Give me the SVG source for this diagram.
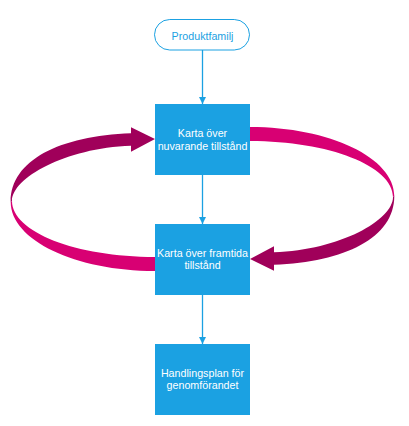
<svg xmlns="http://www.w3.org/2000/svg" width="409" height="426" viewBox="0 0 409 426">
  <style>
    .box { fill: #1ba1e2; }
    .lbl { fill: #ffffff; font-family: "Liberation Sans", Arial, sans-serif; font-size: 10.7px; text-anchor: middle; }
    .pill { fill: #ffffff; stroke: #1ba1e2; stroke-width: 1; }
    .plbl { fill: #1ba1e2; font-family: "Liberation Sans", Arial, sans-serif; font-size: 10.7px; text-anchor: middle; }
    .conn { stroke: #1ba1e2; stroke-width: 1.3; fill: none; }
    .light { fill: #d80073; }
    .dark { fill: #a0005a; }
  </style>
  <defs>
    <marker id="ah" markerWidth="7" markerHeight="7" refX="7" refY="3.5" orient="auto" markerUnits="userSpaceOnUse">
      <path d="M0,0 L7,3.5 L0,7 Z" fill="#1ba1e2"/>
    </marker>
    <g id="cyc">
      <path class="light" d="M157,271 L155,271 C75.3,271 10.7,240.1 10.7,202 L12,201 C12,232 76,257 155,257 L157,257 Z"/>
      <path class="dark" d="M10.7,202 C10.7,160 60,136 131,133.3 L131,127.3 L155,139 L131,151.7 L131,145.7 C65,148 12,178 12,201 Z"/>
    </g>
  </defs>

  <g id="cycle-arrows">
    <use href="#cyc"/>
    <use href="#cyc" transform="rotate(180 202.5 199)"/>
  </g>

  <g id="connectors">
    <line class="conn" x1="202.5" y1="50" x2="202.5" y2="104" marker-end="url(#ah)"/>
    <line class="conn" x1="202.5" y1="175" x2="202.5" y2="224" marker-end="url(#ah)"/>
    <line class="conn" x1="202.5" y1="295" x2="202.5" y2="344" marker-end="url(#ah)"/>
  </g>

  <g id="produktfamilj">
    <rect class="pill" x="154.5" y="19.5" width="95" height="30.5" rx="15.25"/>
    <text class="plbl" x="202.5" y="40">Produktfamilj</text>
  </g>

  <g id="nuvarande">
    <rect class="box" x="155" y="104" width="95" height="71"/>
    <text class="lbl" x="202.5" y="136.5">Karta över</text>
    <text class="lbl" x="202.5" y="149.5">nuvarande tillstånd</text>
  </g>

  <g id="framtida">
    <rect class="box" x="155" y="224" width="95" height="71"/>
    <text class="lbl" x="202.5" y="257">Karta över framtida</text>
    <text class="lbl" x="202.5" y="268.8">tillstånd</text>
  </g>

  <g id="handlingsplan">
    <rect class="box" x="155" y="344" width="95" height="71"/>
    <text class="lbl" x="202.5" y="377.2">Handlingsplan för</text>
    <text class="lbl" x="202.5" y="389">genomförandet</text>
  </g>
</svg>
